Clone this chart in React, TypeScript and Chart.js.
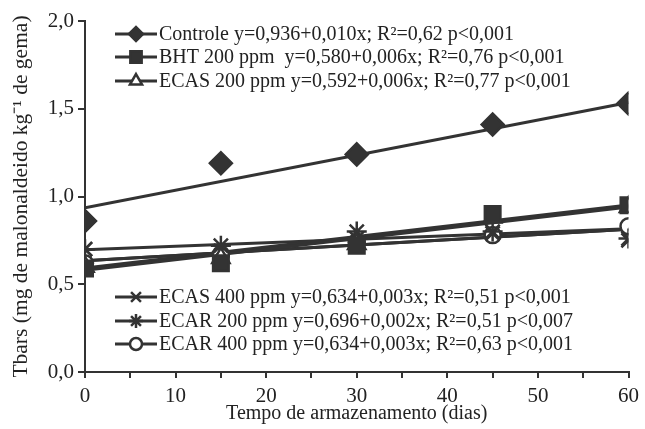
import React, { useEffect, useRef } from "react";
import { Chart, registerables } from "chart.js";
import { drawPoint } from "chart.js/helpers";

Chart.register(...registerables);

const days = [0, 15, 30, 45, 60];
const fitDays = [0, 60];

const seriesLabels = [
  "Controle y=0,936+0,010x; R²=0,62 p<0,001",
  "BHT 200 ppm  y=0,580+0,006x; R²=0,76 p<0,001",
  "ECAS 200 ppm y=0,592+0,006x; R²=0,77 p<0,001",
  "ECAS 400 ppm y=0,634+0,003x; R²=0,51 p<0,001",
  "ECAR 200 ppm y=0,696+0,002x; R²=0,51 p<0,007",
  "ECAR 400 ppm y=0,634+0,003x; R²=0,63 p<0,001",
];

const controle = [0.86, 1.19, 1.24, 1.41, 1.53];
const bht200 = [0.59, 0.62, 0.72, 0.9, 0.95];
const ecas200 = [0.6, 0.65, 0.73, 0.88, 0.94];
const ecas400 = [0.7, 0.69, 0.76, 0.79, 0.75];
const ecar200 = [0.7, 0.72, 0.8, 0.8, 0.76];
const ecar400 = [0.62, 0.67, 0.74, 0.78, 0.83];

const controleFit = [0.936, 1.536];
const bht200Fit = [0.58, 0.94];
const ecas200Fit = [0.592, 0.952];
const ecas400Fit = [0.634, 0.814];
const ecar200Fit = [0.696, 0.816];
const ecar400Fit = [0.634, 0.814];

const yTicks = ["0,0", "0,5", "1,0", "1,5", "2,0"];

const INK = "#333333";
const FONT = '"Liberation Serif", "Times New Roman", serif';

const styles = ["rectRot", "rect", "triangle", "crossRot", "star", "circle"];
const fills = [INK, INK, "#ffffff", INK, INK, "#ffffff"];
const plotRadii = [11, 11, 10, 10, 10, 8];
const legendRadii = [7, 8, 7, 7, 7, 6];

const legendPlugin = {
  id: "customLegend",
  afterDraw(chart: any) {
    const ctx = chart.ctx;
    const topRows = [34, 57, 81];
    const bottomRows = [297, 321, 344];
    const rows = [...topRows, ...bottomRows];
    ctx.save();
    ctx.font = `20px ${FONT}`;
    ctx.textBaseline = "middle";
    ctx.textAlign = "left";
    rows.forEach((y, i) => {
      ctx.strokeStyle = INK;
      ctx.lineWidth = 3;
      ctx.beginPath();
      ctx.moveTo(115, y);
      ctx.lineTo(157, y);
      ctx.stroke();
      ctx.fillStyle = fills[i];
      ctx.strokeStyle = INK;
      ctx.lineWidth = 2.5;
      drawPoint(ctx, { pointStyle: styles[i], radius: legendRadii[i], borderWidth: 2.5, rotation: 0 } as any, 136, y);
      ctx.fillStyle = "#222222";
      ctx.fillText(seriesLabels[i], 159, y + 1);
    });
    ctx.restore();
  },
};

export default function App() {
  const ref = useRef<HTMLCanvasElement>(null);
  useEffect(() => {
    if (!ref.current) return;
    const pointSets = [controle, bht200, ecas200, ecas400, ecar200, ecar400];
    const fitSets = [controleFit, bht200Fit, ecas200Fit, ecas400Fit, ecar200Fit, ecar400Fit];
    const datasets: any[] = [];
    fitSets.forEach((f, i) => {
      datasets.push({
        label: "fit" + i,
        data: fitDays.map((d, j) => ({ x: d, y: f[j] })),
        showLine: true,
        borderColor: INK,
        borderWidth: 3,
        pointRadius: 0,
        order: 2,
      });
    });
    pointSets.forEach((s, i) => {
      datasets.push({
        label: seriesLabels[i],
        data: days.map((d, j) => ({ x: d, y: s[j] })),
        showLine: false,
        pointStyle: styles[i],
        pointRadius: plotRadii[i],
        pointBackgroundColor: fills[i],
        pointBorderColor: INK,
        pointBorderWidth: 2.5,
        order: 1,
      });
    });
    const chart = new Chart(ref.current, {
      type: "scatter",
      data: { datasets },
      options: {
        animation: false,
        responsive: true,
        maintainAspectRatio: false,
        layout: { padding: { top: 21, right: 14, left: 0, bottom: 0 } },
        plugins: { legend: { display: false }, tooltip: { enabled: false } },
        scales: {
          x: {
            type: "linear",
            min: 0,
            max: 60,
            afterFit: (s: any) => {
              s.height = 57;
            },
            ticks: {
              stepSize: 5,
              autoSkip: false,
              maxRotation: 0,
              color: "#222222",
              font: { family: FONT, size: 21 },
              padding: 6,
              callback: (v: any) => (Number(v) % 10 === 0 ? String(v) : ""),
            },
            grid: { drawOnChartArea: false, drawTicks: true, tickLength: 6, color: INK, lineWidth: 2 },
            border: { display: true, color: INK, width: 2 },
            title: {
              display: true,
              text: "Tempo de armazenamento (dias)",
              color: "#222222",
              font: { family: FONT, size: 20 },
              padding: { top: 0, bottom: 3 },
            },
          },
          y: {
            type: "linear",
            min: 0,
            max: 2,
            afterFit: (s: any) => {
              s.width = 85;
            },
            ticks: {
              stepSize: 0.5,
              color: "#222222",
              font: { family: FONT, size: 21 },
              padding: 4,
              callback: (v: any) => yTicks[Math.round(Number(v) / 0.5)] ?? "",
            },
            grid: { drawOnChartArea: false, drawTicks: true, tickLength: 7, color: INK, lineWidth: 2 },
            border: { display: true, color: INK, width: 2 },
            title: {
              display: true,
              text: "Tbars (mg de malonaldeido kg⁻¹ de gema)",
              color: "#222222",
              font: { family: FONT, size: 21.5 },
              padding: { top: 8, bottom: 0 },
            },
          },
        },
      },
      plugins: [legendPlugin],
    });
    return () => chart.destroy();
  }, []);
  return (
    <div style={{ position: "fixed", left: 0, top: 0, width: 645, height: 429, background: "#fff" }}>
      <canvas ref={ref} />
    </div>
  );
}
